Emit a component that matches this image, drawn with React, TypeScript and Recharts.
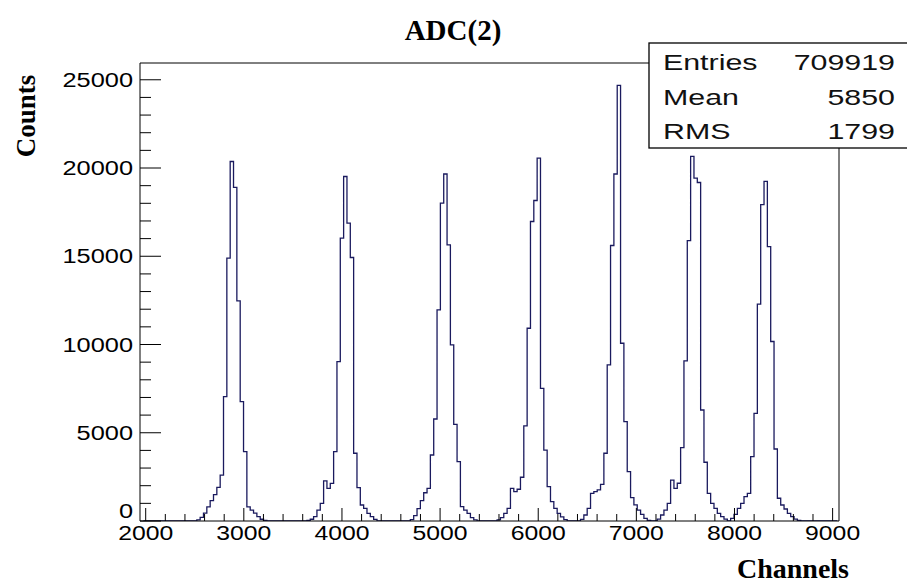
import React from 'react';
import { LineChart, Line, XAxis, YAxis, ReferenceLine } from 'recharts';

const W = 907;
const H = 583;

// binning, in ADC channels
const BIN = 34;
const FIRST_EDGE = 1977;
const X_MIN = 1942;
const X_MAX = 9065;
const Y_MAX = 25950;

// lower edge of the first bin of each peak, then the bin counts
const peakStart = [2521, 3643, 4697, 5581, 6431, 7213, 7961];
const peak1 = [60, 200, 450, 800, 1150, 1500, 1900, 2600, 7050, 14890, 20370, 18900, 12470, 6760, 3930, 800, 620, 450, 250, 100, 30];
const peak2 = [30, 100, 245, 620, 1000, 2270, 1850, 2130, 3930, 9030, 16030, 19520, 16880, 14930, 3840, 1890, 907, 720, 435, 245, 95];
const peak3 = [80, 300, 700, 1150, 1600, 1850, 3740, 5780, 11960, 18010, 19660, 15650, 9980, 5480, 3360, 810, 620, 435, 190, 60];
const peak4 = [60, 190, 435, 720, 1850, 1660, 1800, 2480, 5390, 10920, 16970, 18160, 20560, 7520, 4020, 1950, 1100, 720, 435, 230, 80];
const peak5 = [95, 340, 720, 1570, 1660, 1760, 2080, 3840, 8850, 15610, 19660, 24680, 10070, 5630, 2800, 1320, 910, 620, 380, 150, 40];
const peak6 = [110, 340, 620, 1000, 2320, 1850, 2140, 4160, 9070, 15890, 20660, 19430, 19180, 6290, 3330, 1570, 1000, 720, 435, 245, 110];
const peak7 = [150, 380, 720, 1000, 1380, 1570, 3650, 6100, 12290, 17920, 19240, 15550, 10170, 4080, 1290, 907, 680, 435, 245, 110, 40];
const peaks = [peak1, peak2, peak3, peak4, peak5, peak6, peak7];

const xLabels = [2000, 3000, 4000, 5000, 6000, 7000, 8000, 9000];
const yLabels = [0, 5000, 10000, 15000, 20000, 25000];

const stats = [
  ['Entries', '709919'],
  ['Mean', '5850'],
  ['RMS', '1799'],
];

// fill the bins
const nBins = Math.floor((X_MAX - FIRST_EDGE) / BIN);
const counts: number[] = new Array(nBins).fill(0);
peaks.forEach((p, k) => {
  const off = Math.round((peakStart[k] - FIRST_EDGE) / BIN);
  p.forEach((v, j) => {
    counts[off + j] = v;
  });
});
const data = counts.map((n, i) => ({ ch: FIRST_EDGE + i * BIN, n }));
data.push({ ch: FIRST_EDGE + nBins * BIN, n: 0 });

const withMinor = (majors: number[], step: number) => {
  const out: number[] = [];
  majors.forEach((m, i) => {
    out.push(m);
    if (i < majors.length - 1) for (let s = 1; s < 5; s++) out.push(m + s * step);
  });
  return out;
};
const xTicks = withMinor(xLabels, 200);
const yTicks = withMinor(yLabels, 1000);

const sans = "'Liberation Sans', Arial, Helvetica, sans-serif";
const serif = "'Liberation Serif', 'Times New Roman', serif";

const XTick = (props: any) => {
  const { x, y, payload } = props;
  const v = payload.value;
  const major = xLabels.includes(v);
  return (
    <g>
      <line x1={x} x2={x} y1={y} y2={y - (major ? 13 : 7)} stroke="#000" />
      {major && (
        <text
          transform={`translate(${x},${y + 19}) scale(1.27,1)`}
          textAnchor="middle"
          fontFamily={sans}
          fontSize={19.5}
          fill="#000"
        >
          {v}
        </text>
      )}
    </g>
  );
};

const YTick = (props: any) => {
  const { x, y, payload } = props;
  const v = payload.value;
  const major = yLabels.includes(v);
  // the "0" label sits a bit higher so it clears the x labels
  const dy = v === 0 ? -3 : 7;
  return (
    <g>
      <line x1={x} x2={x + (major ? 21 : 11)} y1={y} y2={y} stroke="#000" />
      {major && (
        <text
          transform={`translate(${x - 7},${y + dy}) scale(1.3,1)`}
          textAnchor="end"
          fontFamily={sans}
          fontSize={19.5}
          fill="#000"
        >
          {v}
        </text>
      )}
    </g>
  );
};

export default function App() {
  return (
    <div style={{ position: 'absolute', left: 0, top: 0, width: W, height: H, background: '#fff' }}>
      <LineChart width={W} height={H} data={data} margin={{ top: 63, right: 68, bottom: 0, left: 0 }}>
        <XAxis
          type="number"
          dataKey="ch"
          domain={[X_MIN, X_MAX]}
          ticks={xTicks}
          interval={0}
          allowDataOverflow
          height={62}
          tickLine={false}
          tickSize={0}
          tickMargin={0}
          tick={<XTick />}
          axisLine={{ stroke: '#000' }}
        />
        <YAxis
          type="number"
          domain={[0, Y_MAX]}
          ticks={yTicks}
          interval={0}
          allowDataOverflow
          width={140}
          tickLine={false}
          tickSize={0}
          tickMargin={0}
          tick={<YTick />}
          axisLine={{ stroke: '#000' }}
        />
        <ReferenceLine y={Y_MAX} stroke="#000" />
        <ReferenceLine x={X_MAX} stroke="#000" />
        <Line
          type="stepAfter"
          dataKey="n"
          stroke="#1a1a5e"
          strokeWidth={1.3}
          dot={false}
          isAnimationActive={false}
        />
      </LineChart>
      <svg
        width={W}
        height={H}
        style={{ position: 'absolute', left: 0, top: 0, pointerEvents: 'none' }}
      >
        <text x={453} y={40} textAnchor="middle" fontFamily={serif} fontWeight="bold" fontSize={29} fill="#000">
          ADC(2)
        </text>
        <text
          transform="translate(35,116) rotate(-90)"
          textAnchor="middle"
          fontFamily={serif}
          fontWeight="bold"
          fontSize={27}
          fill="#000"
        >
          Counts
        </text>
        <text x={849} y={578} textAnchor="end" fontFamily={serif} fontWeight="bold" fontSize={28} fill="#000">
          Channels
        </text>
        <rect x={649} y={43} width={270} height={105} fill="#fff" stroke="#000" strokeWidth={1.3} />
        {stats.map(([name, val], i) => (
          <g key={name}>
            <text
              transform={`translate(663,${70 + i * 34.5}) scale(1.38,1)`}
              fontFamily={sans}
              fontSize={22}
              fill="#111"
            >
              {name}
            </text>
            <text
              transform={`translate(895,${70 + i * 34.5}) scale(1.38,1)`}
              textAnchor="end"
              fontFamily={sans}
              fontSize={22}
              fill="#111"
            >
              {val}
            </text>
          </g>
        ))}
      </svg>
    </div>
  );
}
